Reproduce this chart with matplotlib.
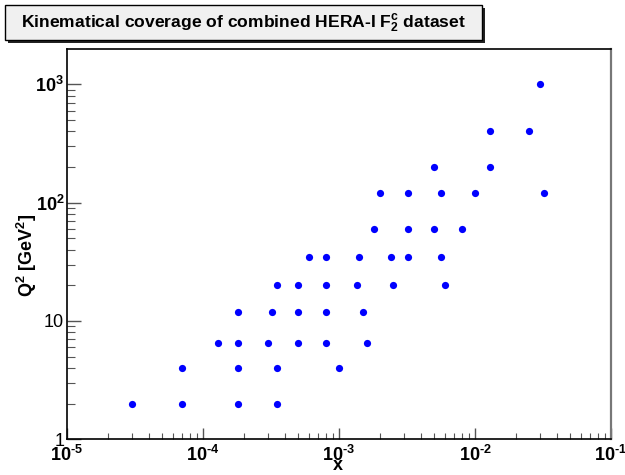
import matplotlib
matplotlib.use("Agg")
import matplotlib.pyplot as plt
from matplotlib.patches import Rectangle
from matplotlib.ticker import LogLocator, FixedLocator, NullFormatter

plt.rcParams['font.family'] = ['Liberation Sans', 'DejaVu Sans']
plt.rcParams['mathtext.fontset'] = 'custom'
plt.rcParams['mathtext.rm'] = 'Liberation Sans:bold'
plt.rcParams['mathtext.bf'] = 'Liberation Sans:bold'
plt.rcParams['mathtext.it'] = 'Liberation Sans:bold'
plt.rcParams['mathtext.default'] = 'bf'
plt.rcParams['axes.unicode_minus'] = False

# data: measured (x, Q2) points
x_vals = [3e-5, 7e-5, 1.8e-4, 3.5e-4,
          7e-5, 1.8e-4, 3.5e-4, 1e-3,
          1.3e-4, 1.8e-4, 3e-4, 5e-4, 8e-4, 1.6e-3,
          1.8e-4, 3.2e-4, 5e-4, 8e-4, 1.5e-3,
          3.5e-4, 5e-4, 8e-4, 1.35e-3, 2.5e-3, 6e-3,
          6e-4, 8e-4, 1.4e-3, 2.4e-3, 3.2e-3, 5.6e-3,
          1.8e-3, 3.2e-3, 5e-3, 8e-3,
          2e-3, 3.2e-3, 5.6e-3, 1e-2, 3.2e-2,
          5e-3, 1.3e-2,
          1.3e-2, 2.5e-2,
          3e-2]
q2_vals = [2, 2, 2, 2,
           4, 4, 4, 4,
           6.5, 6.5, 6.5, 6.5, 6.5, 6.5,
           12, 12, 12, 12, 12,
           20, 20, 20, 20, 20, 20,
           35, 35, 35, 35, 35, 35,
           60, 60, 60, 60,
           120, 120, 120, 120, 120,
           200, 200,
           400, 400,
           1000]

x_ticks = [1e-5, 1e-4, 1e-3, 1e-2, 1e-1]
x_ticklabels = [r"$10^{\text{-5}}$", r"$10^{\text{-4}}$", r"$10^{\text{-3}}$",
                r"$10^{\text{-2}}$", r"$10^{\text{-1}}$"]
y_ticks = [1, 10, 100, 1000]
y_ticklabels = ["1", "10", "$10^{2}$", "$10^{3}$"]

W, H = 625, 475
fig = plt.figure(figsize=(W / 100, H / 100), dpi=100)
fig.patch.set_facecolor('white')

def fx(px):
    return px / W

def fy(py):
    return 1 - py / H

ax = fig.add_axes([fx(67), fy(439.3), fx(611) - fx(67), fy(49.3) - fy(439.3)])
ax.plot(x_vals, q2_vals, 'o', color='#0000ff', markersize=5.2, markeredgewidth=0)

ax.set_xscale('log')
ax.set_yscale('log')
ax.set_xlim(1e-5, 1e-1)
ax.set_ylim(1, 1980)

ax.xaxis.set_major_locator(FixedLocator(x_ticks))
ax.set_xticklabels(x_ticklabels)
ax.yaxis.set_major_locator(FixedLocator(y_ticks))
ax.set_yticklabels(y_ticklabels)
ax.xaxis.set_minor_locator(LogLocator(base=10, subs=range(2, 10), numticks=20))
ax.yaxis.set_minor_locator(LogLocator(base=10, subs=range(2, 10), numticks=20))
ax.xaxis.set_minor_formatter(NullFormatter())
ax.yaxis.set_minor_formatter(NullFormatter())

ax.tick_params(axis='x', which='major', direction='in', length=8, width=1,
               labelsize=13, pad=4, top=False, color='#555555')
ax.tick_params(axis='x', which='minor', direction='in', length=4.5, width=0.8,
               top=False, color='#555555')
ax.tick_params(axis='y', which='major', direction='in', length=10, width=1,
               labelsize=13, pad=2, right=False, color='#555555')
ax.tick_params(axis='y', which='minor', direction='in', length=5.5, width=0.8,
               right=False, color='#555555')

for s in ['left', 'bottom', 'top']:
    ax.spines[s].set_color('black')
    ax.spines[s].set_linewidth(1.2)
ax.spines['right'].set_color('#777777')
ax.spines['right'].set_linewidth(1.6)

fig.text(fx(338), fy(466), "x", fontsize=13, fontweight='bold', ha='center', va='center')
fig.text(fx(27), fy(255), "Q$^{2}$ [GeV$^{2}$]", fontsize=13, fontweight='bold',
         rotation=90, ha='center', va='center')

# title box with shadow
shadow = Rectangle((fx(8), fy(43)), fx(485) - fx(8), fy(8) - fy(43),
                   transform=fig.transFigure, facecolor='#222222', edgecolor='none')
box = Rectangle((fx(5), fy(40)), fx(482) - fx(5), fy(5) - fy(40),
                transform=fig.transFigure, facecolor='#f0f0f0', edgecolor='black',
                linewidth=1)
fig.patches.extend([shadow, box])
fig.text(fx(243), fy(24), "Kinematical coverage of combined HERA-I F$_{2}^{c}$ dataset",
         fontsize=12.6, fontweight='bold', ha='center', va='center')

fig.savefig("out.png", dpi=100)
